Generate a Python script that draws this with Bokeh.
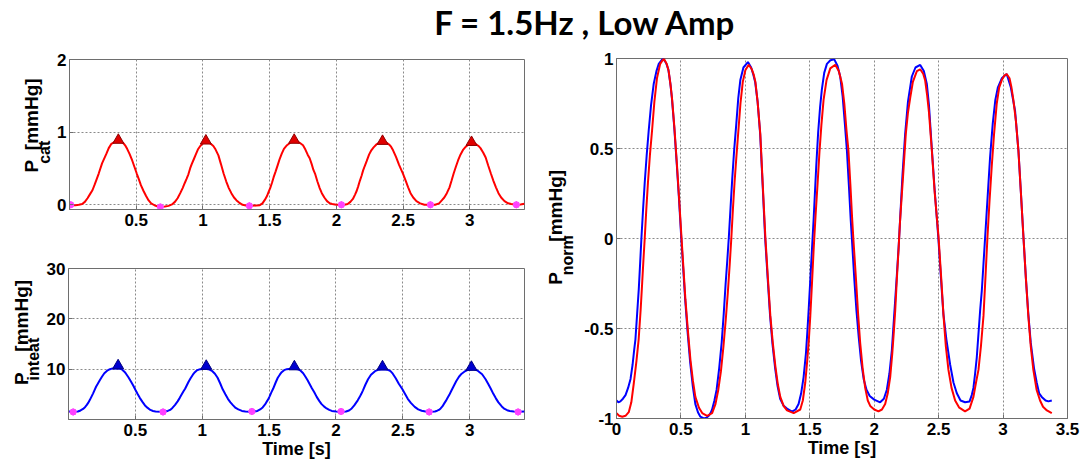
import math
from bokeh.plotting import figure
from bokeh.models import Range1d, FixedTicker, CustomJSTickFormatter
from bokeh.layouts import column, row
from bokeh.core.properties import value
from bokeh.embed import file_html
from bokeh.resources import INLINE

# ---------------- data ----------------
title_text = "F = 1.5Hz , Low Amp"

# top-left: P_cat [mmHg]
t_cat = [0.000, 0.020, 0.045, 0.070, 0.095, 0.115, 0.135, 0.155, 0.172, 0.187, 0.199, 0.219, 0.244, 0.276, 0.294,
         0.314, 0.339, 0.365, 0.390, 0.405, 0.420, 0.432, 0.450, 0.470, 0.487, 0.504, 0.520, 0.535, 0.555, 0.574,
         0.593, 0.612, 0.640, 0.665, 0.685, 0.715, 0.742, 0.768, 0.790, 0.810, 0.830, 0.848, 0.864, 0.878, 0.891,
         0.904, 0.916, 0.930, 0.946, 0.962, 0.980, 1.000, 1.024, 1.050, 1.065, 1.078, 1.095, 1.116, 1.135, 1.155,
         1.175, 1.194, 1.213, 1.233, 1.252, 1.271, 1.297, 1.323, 1.348, 1.400, 1.426, 1.446, 1.465, 1.480, 1.493,
         1.504, 1.517, 1.530, 1.545, 1.561, 1.575, 1.590, 1.607, 1.630, 1.659, 1.686, 1.725, 1.750, 1.768, 1.785,
         1.800, 1.815, 1.828, 1.840, 1.858, 1.875, 1.891, 1.910, 1.930, 1.950, 1.969, 2.000, 2.035, 2.060, 2.085,
         2.105, 2.124, 2.140, 2.152, 2.163, 2.176, 2.189, 2.200, 2.212, 2.227, 2.245, 2.262, 2.279, 2.300, 2.325,
         2.348, 2.380, 2.395, 2.410, 2.425, 2.447, 2.470, 2.499, 2.520, 2.538, 2.556, 2.576, 2.600, 2.628, 2.660,
         2.705, 2.740, 2.770, 2.790, 2.809, 2.828, 2.848, 2.863, 2.879, 2.895, 2.912, 2.930, 2.951, 2.970, 2.990,
         3.013, 3.035, 3.050, 3.065, 3.080, 3.100, 3.119, 3.138, 3.158, 3.177, 3.196, 3.215, 3.235, 3.260, 3.287,
         3.310, 3.350, 3.380, 3.410]
p_cat = [0.000, -0.005, -0.005, 0.000, 0.010, 0.040, 0.090, 0.150, 0.200, 0.270, 0.330, 0.430, 0.570, 0.700, 0.780,
         0.840, 0.865, 0.875, 0.865, 0.845, 0.810, 0.770, 0.700, 0.610, 0.520, 0.430, 0.350, 0.270, 0.190, 0.120,
         0.060, 0.020, -0.010, -0.025, -0.030, -0.025, -0.015, 0.005, 0.040, 0.090, 0.160, 0.230, 0.300, 0.360, 0.420,
         0.500, 0.560, 0.620, 0.690, 0.760, 0.810, 0.845, 0.865, 0.850, 0.830, 0.810, 0.760, 0.680, 0.560, 0.430,
         0.320, 0.230, 0.160, 0.100, 0.060, 0.030, 0.000, -0.010, -0.015, -0.010, -0.005, 0.020, 0.070, 0.120, 0.180,
         0.230, 0.300, 0.380, 0.460, 0.550, 0.630, 0.700, 0.770, 0.820, 0.860, 0.875, 0.855, 0.820, 0.760, 0.690,
         0.640, 0.560, 0.480, 0.430, 0.320, 0.230, 0.160, 0.100, 0.050, 0.020, 0.010, 0.000, 0.000, 0.000, 0.010,
         0.040, 0.080, 0.140, 0.190, 0.250, 0.330, 0.400, 0.470, 0.530, 0.600, 0.690, 0.750, 0.790, 0.830, 0.855,
         0.860, 0.850, 0.830, 0.800, 0.750, 0.660, 0.550, 0.430, 0.330, 0.240, 0.160, 0.100, 0.050, 0.020, 0.000,
         0.000, 0.000, 0.020, 0.060, 0.100, 0.160, 0.240, 0.330, 0.430, 0.520, 0.610, 0.690, 0.760, 0.800, 0.830,
         0.845, 0.840, 0.830, 0.810, 0.780, 0.720, 0.650, 0.540, 0.430, 0.330, 0.240, 0.160, 0.100, 0.050, 0.020,
         0.010, 0.000, 0.005, 0.015]
cat_peak_t = [0.366, 1.022, 1.684, 2.346, 3.013]
cat_peak_v = [0.89, 0.88, 0.89, 0.875, 0.86]
cat_min_t = [0.009, 0.681, 1.348, 2.038, 2.705, 3.349]
cat_min_v = [0.0, -0.03, -0.015, 0.0, 0.0, 0.0]

# bottom-left: P_inteat [mmHg]
t_int = [0.000, 0.040, 0.070, 0.090, 0.109, 0.125, 0.137, 0.147, 0.160, 0.173, 0.184, 0.194, 0.206, 0.219, 0.234,
         0.250, 0.268, 0.289, 0.310, 0.330, 0.360, 0.385, 0.402, 0.418, 0.430, 0.448, 0.468, 0.485, 0.502, 0.518,
         0.533, 0.553, 0.572, 0.592, 0.612, 0.632, 0.651, 0.690, 0.716, 0.742, 0.760, 0.777, 0.797, 0.816, 0.832,
         0.847, 0.860, 0.872, 0.885, 0.898, 0.913, 0.930, 0.945, 0.961, 0.985, 1.020, 1.045, 1.062, 1.076, 1.095,
         1.115, 1.134, 1.153, 1.173, 1.192, 1.211, 1.231, 1.250, 1.270, 1.297, 1.323, 1.362, 1.390, 1.413, 1.433,
         1.452, 1.470, 1.481, 1.491, 1.504, 1.517, 1.530, 1.550, 1.565, 1.580, 1.594, 1.612, 1.633, 1.660, 1.690,
         1.715, 1.736, 1.755, 1.772, 1.788, 1.800, 1.820, 1.838, 1.856, 1.875, 1.891, 1.910, 1.930, 1.950, 1.969,
         2.000, 2.040, 2.075, 2.098, 2.118, 2.137, 2.150, 2.163, 2.176, 2.190, 2.202, 2.220, 2.240, 2.262, 2.292,
         2.320, 2.357, 2.385, 2.408, 2.425, 2.447, 2.470, 2.497, 2.518, 2.537, 2.560, 2.589, 2.615, 2.641, 2.670,
         2.705, 2.740, 2.757, 2.770, 2.783, 2.796, 2.810, 2.822, 2.835, 2.848, 2.861, 2.880, 2.899, 2.920, 2.940,
         2.960, 2.990, 3.028, 3.060, 3.093, 3.119, 3.138, 3.158, 3.177, 3.196, 3.215, 3.240, 3.261, 3.280, 3.300,
         3.330, 3.360, 3.410]
p_int = [1.6, 1.55, 1.6, 1.8, 2.1, 2.5, 2.9, 3.3, 3.9, 4.6, 5.2, 5.8, 6.5, 7.1, 7.8,
         8.5, 9.2, 9.7, 10.0, 10.15, 10.2, 10.1, 9.9, 9.5, 9.1, 8.4, 7.5, 6.7, 5.8, 5.0,
         4.3, 3.5, 2.8, 2.3, 1.9, 1.7, 1.6, 1.55, 1.6, 1.7, 1.9, 2.3, 2.9, 3.6, 4.3,
         5.0, 5.6, 6.1, 6.8, 7.5, 8.2, 8.9, 9.4, 9.8, 10.0, 10.1, 10.0, 9.8, 9.6, 9.1,
         8.3, 7.2, 6.0, 5.0, 4.1, 3.4, 2.8, 2.3, 2.0, 1.7, 1.6, 1.55, 1.6, 1.7, 2.0,
         2.4, 3.0, 3.5, 3.9, 4.6, 5.4, 6.1, 7.4, 8.3, 8.9, 9.4, 9.8, 10.0, 10.1, 10.1,
         10.0, 9.7, 9.2, 8.5, 7.8, 7.2, 6.2, 5.4, 4.5, 3.7, 3.1, 2.6, 2.2, 1.9, 1.7,
         1.6, 1.55, 1.6, 1.8, 2.2, 2.8, 3.3, 3.8, 4.4, 5.1, 5.8, 6.9, 8.0, 8.9, 9.6,
         9.9, 10.0, 9.9, 9.6, 9.1, 8.2, 7.1, 6.0, 5.0, 4.1, 3.3, 2.5, 2.0, 1.75, 1.6,
         1.55, 1.6, 1.75, 1.9, 2.2, 2.6, 3.2, 3.7, 4.3, 4.9, 5.6, 6.6, 7.6, 8.5, 9.1,
         9.5, 9.9, 10.0, 9.7, 9.0, 8.0, 7.1, 6.1, 5.1, 4.2, 3.4, 2.6, 2.1, 1.85, 1.7,
         1.6, 1.55, 1.6]
int_peak_t = [0.371, 1.030, 1.689, 2.348, 3.013]
int_peak_v = [10.7, 10.6, 10.5, 10.5, 10.4]
int_min_t = [0.035, 0.707, 1.371, 2.038, 2.697, 3.362]
int_min_v = [1.5, 1.5, 1.6, 1.6, 1.5, 1.5]

# right: normalised pressures (red = P_cat, blue = P_inteat)
t_norm_red = [0.000, 0.020, 0.045, 0.070, 0.095, 0.115, 0.135, 0.155, 0.172, 0.187, 0.199, 0.209, 0.219, 0.232, 0.244,
              0.259, 0.276, 0.294, 0.314, 0.339, 0.367, 0.390, 0.405, 0.420, 0.432, 0.450, 0.470, 0.487, 0.504, 0.520,
              0.535, 0.555, 0.574, 0.593, 0.612, 0.640, 0.665, 0.703, 0.742, 0.768, 0.790, 0.810, 0.830, 0.848, 0.864,
              0.878, 0.891, 0.904, 0.916, 0.930, 0.946, 0.962, 0.980, 1.000, 1.026, 1.050, 1.065, 1.078, 1.095, 1.116,
              1.135, 1.155, 1.175, 1.194, 1.213, 1.233, 1.252, 1.271, 1.297, 1.323, 1.375, 1.426, 1.446, 1.465, 1.480,
              1.493, 1.504, 1.517, 1.530, 1.545, 1.561, 1.575, 1.590, 1.607, 1.630, 1.659, 1.698, 1.725, 1.750, 1.768,
              1.785, 1.800, 1.815, 1.828, 1.838, 1.858, 1.875, 1.891, 1.910, 1.930, 1.950, 1.969, 2.000, 2.033, 2.060,
              2.085, 2.105, 2.124, 2.140, 2.152, 2.163, 2.176, 2.189, 2.200, 2.212, 2.227, 2.245, 2.262, 2.279, 2.300,
              2.331, 2.357, 2.380, 2.395, 2.410, 2.425, 2.447, 2.470, 2.499, 2.520, 2.538, 2.556, 2.576, 2.600, 2.628,
              2.660, 2.705, 2.740, 2.770, 2.790, 2.809, 2.828, 2.848, 2.863, 2.879, 2.895, 2.912, 2.930, 2.951, 2.970,
              2.990, 3.010, 3.028, 3.050, 3.065, 3.080, 3.100, 3.119, 3.138, 3.158, 3.177, 3.196, 3.215, 3.235, 3.260,
              3.287, 3.310, 3.340, 3.378]
p_norm_red = [-0.970, -0.985, -0.990, -0.985, -0.965, -0.910, -0.800, -0.680, -0.560, -0.400, -0.250, -0.120, 0.000, 0.170, 0.310,
              0.460, 0.600, 0.760, 0.890, 0.970, 1.000, 0.970, 0.930, 0.850, 0.770, 0.610, 0.400, 0.210, 0.010, -0.170,
              -0.340, -0.520, -0.675, -0.790, -0.880, -0.940, -0.970, -0.985, -0.970, -0.920, -0.840, -0.740, -0.600, -0.450, -0.300,
              -0.150, 0.000, 0.170, 0.310, 0.450, 0.600, 0.750, 0.870, 0.935, 0.965, 0.940, 0.910, 0.870, 0.760, 0.580,
              0.300, 0.010, -0.220, -0.430, -0.580, -0.710, -0.810, -0.880, -0.930, -0.955, -0.970, -0.950, -0.900, -0.800, -0.680,
              -0.560, -0.430, -0.250, -0.060, 0.130, 0.310, 0.480, 0.630, 0.770, 0.880, 0.945, 0.965, 0.930, 0.860, 0.750,
              0.600, 0.490, 0.300, 0.120, 0.000, -0.220, -0.420, -0.580, -0.720, -0.830, -0.900, -0.930, -0.950, -0.960, -0.950,
              -0.920, -0.860, -0.770, -0.640, -0.520, -0.400, -0.220, -0.060, 0.090, 0.220, 0.380, 0.580, 0.700, 0.780, 0.870,
              0.930, 0.940, 0.915, 0.880, 0.800, 0.700, 0.490, 0.250, 0.010, -0.220, -0.430, -0.600, -0.730, -0.830, -0.900,
              -0.940, -0.960, -0.945, -0.880, -0.800, -0.730, -0.600, -0.430, -0.220, 0.010, 0.210, 0.400, 0.580, 0.750, 0.840,
              0.880, 0.905, 0.914, 0.890, 0.840, 0.770, 0.650, 0.490, 0.260, 0.010, -0.220, -0.430, -0.600, -0.730, -0.840,
              -0.900, -0.935, -0.955, -0.970]
t_norm_blue = [0.000, 0.015, 0.030, 0.050, 0.070, 0.090, 0.109, 0.125, 0.137, 0.147, 0.160, 0.173, 0.184, 0.194, 0.206,
               0.219, 0.234, 0.250, 0.268, 0.289, 0.310, 0.328, 0.360, 0.385, 0.402, 0.418, 0.430, 0.448, 0.468, 0.485,
               0.502, 0.518, 0.533, 0.553, 0.572, 0.592, 0.612, 0.632, 0.651, 0.677, 0.700, 0.716, 0.730, 0.742, 0.760,
               0.777, 0.797, 0.816, 0.832, 0.847, 0.860, 0.872, 0.885, 0.898, 0.913, 0.930, 0.945, 0.961, 0.985, 1.020,
               1.045, 1.062, 1.076, 1.095, 1.115, 1.134, 1.153, 1.173, 1.192, 1.211, 1.231, 1.250, 1.270, 1.297, 1.323,
               1.362, 1.390, 1.413, 1.433, 1.452, 1.470, 1.481, 1.491, 1.504, 1.517, 1.530, 1.550, 1.565, 1.580, 1.594,
               1.612, 1.633, 1.660, 1.690, 1.715, 1.736, 1.755, 1.772, 1.788, 1.803, 1.818, 1.830, 1.845, 1.862, 1.880,
               1.898, 1.918, 1.940, 1.965, 2.000, 2.046, 2.075, 2.098, 2.118, 2.137, 2.150, 2.163, 2.176, 2.190, 2.202,
               2.220, 2.240, 2.262, 2.292, 2.320, 2.357, 2.385, 2.408, 2.425, 2.447, 2.470, 2.497, 2.518, 2.537, 2.560,
               2.589, 2.615, 2.641, 2.670, 2.705, 2.740, 2.757, 2.770, 2.783, 2.796, 2.810, 2.822, 2.835, 2.848, 2.861,
               2.880, 2.899, 2.920, 2.940, 2.960, 2.990, 3.028, 3.060, 3.093, 3.119, 3.138, 3.158, 3.177, 3.196, 3.215,
               3.240, 3.261, 3.280, 3.300, 3.330, 3.352, 3.378]
p_norm_blue = [-0.900, -0.910, -0.905, -0.890, -0.870, -0.830, -0.780, -0.700, -0.620, -0.560, -0.420, -0.280, -0.130, 0.010, 0.160,
               0.310, 0.460, 0.600, 0.740, 0.860, 0.930, 0.970, 1.000, 0.975, 0.940, 0.860, 0.780, 0.620, 0.410, 0.220,
               0.010, -0.170, -0.340, -0.530, -0.690, -0.820, -0.920, -0.965, -0.990, -1.000, -0.995, -0.985, -0.970, -0.950, -0.900,
               -0.840, -0.720, -0.580, -0.420, -0.250, -0.120, 0.010, 0.170, 0.330, 0.490, 0.640, 0.780, 0.880, 0.950, 0.980,
               0.950, 0.910, 0.870, 0.760, 0.580, 0.300, 0.010, -0.220, -0.430, -0.590, -0.720, -0.820, -0.890, -0.930, -0.945,
               -0.962, -0.950, -0.920, -0.860, -0.770, -0.640, -0.520, -0.400, -0.230, -0.060, 0.110, 0.400, 0.590, 0.730, 0.830,
               0.920, 0.970, 0.990, 0.995, 0.960, 0.900, 0.790, 0.640, 0.490, 0.300, 0.100, -0.040, -0.220, -0.400, -0.550,
               -0.680, -0.780, -0.840, -0.875, -0.895, -0.910, -0.890, -0.840, -0.750, -0.620, -0.480, -0.340, -0.200, -0.040, 0.120,
               0.360, 0.580, 0.760, 0.900, 0.950, 0.964, 0.930, 0.860, 0.740, 0.500, 0.260, 0.010, -0.220, -0.420, -0.560,
               -0.700, -0.800, -0.860, -0.900, -0.910, -0.905, -0.870, -0.830, -0.750, -0.660, -0.520, -0.400, -0.290, -0.140, 0.010,
               0.230, 0.450, 0.640, 0.770, 0.840, 0.890, 0.914, 0.840, 0.710, 0.490, 0.260, 0.010, -0.220, -0.420, -0.580,
               -0.720, -0.800, -0.860, -0.880, -0.900, -0.905, -0.900]

left_xticks = [0.5, 1, 1.5, 2, 2.5, 3]
cat_yticks = [0, 1, 2]
int_yticks = [10, 20, 30]
norm_xticks = [0, 0.5, 1, 1.5, 2, 2.5, 3, 3.5]
norm_yticks = [-1, -0.5, 0, 0.5, 1]

# ---------------- styling helpers ----------------
FONT = "Liberation Sans"
GRID = "#8a8a8a"
FRAME = "#6e6e6e"
RED = "#ff0000"
BLUE = "#0000ff"
MAG = "#ff40ff"


def blank_fig(width, height):
    p = figure(width=width, height=height, x_range=Range1d(0, width), y_range=Range1d(0, height),
               output_backend="svg", toolbar_location=None, min_border=0)
    p.xaxis.visible = False
    p.yaxis.visible = False
    p.xgrid.visible = False
    p.ygrid.visible = False
    p.outline_line_color = None
    p.background_fill_color = "white"
    p.border_fill_color = "white"
    return p


def make_fig(width, height, xr, yr, borders):
    p = figure(width=width, height=height, x_range=Range1d(*xr), y_range=Range1d(*yr),
               output_backend="svg", toolbar_location=None,
               min_border_left=borders[0], min_border_right=borders[1],
               min_border_top=borders[2], min_border_bottom=borders[3])
    p.outline_line_color = FRAME
    p.outline_line_width = 1
    p.background_fill_color = "white"
    p.border_fill_color = "white"
    return p


def style_axes(p, xticks, yticks, xlabel=None):
    p.xaxis.ticker = FixedTicker(ticks=xticks)
    p.yaxis.ticker = FixedTicker(ticks=yticks)
    fmt = CustomJSTickFormatter(code="return tick.toString();")
    for ax in (p.xaxis[0], p.yaxis[0]):
        ax.formatter = fmt
        ax.major_tick_in = 4
        ax.major_tick_out = 0
        ax.minor_tick_line_color = None
        ax.axis_line_color = FRAME
        ax.major_tick_line_color = FRAME
        ax.major_label_text_font = FONT
        ax.major_label_text_font_size = "17px"
        ax.major_label_text_font_style = "bold"
        ax.major_label_text_color = "black"
    p.xaxis.major_label_standoff = 4
    p.yaxis.major_label_standoff = 3
    if xlabel:
        p.xaxis.axis_label = xlabel
        p.xaxis.axis_label_text_font = FONT
        p.xaxis.axis_label_text_font_size = "18px"
        p.xaxis.axis_label_text_font_style = "bold"
        p.xaxis.axis_label_text_color = "black"
        p.xaxis.axis_label_standoff = 0
    for g in (p.xgrid[0], p.ygrid[0]):
        g.grid_line_color = GRID
        g.grid_line_dash = "2 2"
        g.grid_line_width = 1


def y_title_fig(width, height, base_x, y_start, y_end, sub, sub_len, sub_dx):
    # narrow strip holding the rotated y-axis title (pixel units); every piece is
    # anchored at its own centre so the rotation cannot shift it
    p = blank_fig(width, height)
    common = dict(angle=math.pi / 2, text_font=value(FONT), text_font_style="bold",
                  text_color="black", text_align="center", text_baseline="middle")
    p_len, mm_len = 12.7, 71.8
    p.text(x=[base_x - 6.6], y=[y_start + p_len / 2], text=["P"], text_font_size="19px", **common)
    p.text(x=[base_x + sub_dx - 5.6], y=[y_start + p_len + 1 + sub_len / 2], text=[sub],
           text_font_size="16px", **common)
    p.text(x=[base_x - 6.6], y=[y_end - mm_len / 2], text=["[mmHg]"], text_font_size="19px", **common)
    return p


# ---------------- title strip ----------------
pt = blank_fig(1087, 40)
pt.text(x=[585], y=[19], text=[title_text], text_font=value("Lato"), text_font_style="bold",
        text_font_size="33px", text_align="center", text_baseline="middle", text_color="black")

# ---------------- top-left ----------------
p1 = make_fig(486, 205, (0, 3.41), (-0.065, 2), (13, 16, 19, 36))
style_axes(p1, left_xticks, cat_yticks)
p1.line(t_cat, p_cat, line_color=RED, line_width=2)
p1.scatter(cat_peak_t, cat_peak_v, marker="triangle", size=11, fill_color="#e00000", line_color="#900000")
p1.scatter(cat_min_t, cat_min_v, marker="circle", size=6, fill_color="#ff80ff", line_color=MAG)
p1.scatter(cat_min_t, cat_min_v, marker="asterisk", size=7, line_color=MAG, line_width=1.5)
l1 = y_title_fig(54, 205, 38, 36 + 17, 36 + 130, "cat", 23.1, 12)

# ---------------- bottom-left ----------------
p2 = make_fig(497, 220, (0, 3.41), (0, 30), (24, 16, 23, 46))
style_axes(p2, left_xticks, int_yticks, "Time [s]")
p2.line(t_int, p_int, line_color=BLUE, line_width=2)
p2.scatter(int_peak_t, int_peak_v, marker="triangle", size=11, fill_color="#0000d0", line_color="#000080")
p2.scatter(int_min_t, int_min_v, marker="circle", size=6, fill_color="#ff80ff", line_color=MAG)
p2.scatter(int_min_t, int_min_v, marker="asterisk", size=7, line_color=MAG, line_width=1.5)
l2 = y_title_fig(43, 220, 28, 46 + 7, 46 + 141, "inteat", 42.7, 11)

# ---------------- right ----------------
p3 = make_fig(509, 425, (0, 3.5), (-1, 1), (38, 20, 18, 47))
style_axes(p3, norm_xticks, norm_yticks, "Time [s]")
p3.line(t_norm_blue, p_norm_blue, line_color=BLUE, line_width=2)
p3.line(t_norm_red, p_norm_red, line_color=RED, line_width=2)
l3 = y_title_fig(38, 425, 22, 47 + 112, 47 + 240, "norm", 40.0, 11)

layout = column(pt, row(column(row(l1, p1), row(l2, p2)), row(l3, p3)))

open("out.html", "w").write(file_html(layout, INLINE))
